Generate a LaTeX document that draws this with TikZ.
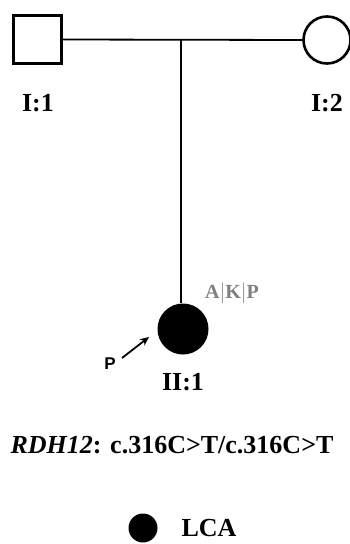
\documentclass[tikz,border=0pt]{standalone}
\usepackage{fontspec}
\usetikzlibrary{arrows.meta}
\setmainfont{Liberation Serif}
\newfontfamily\sansf{Liberation Sans}
\begin{document}
\begin{tikzpicture}[x=1pt,y=-1pt,
  lbl/.style={font=\fontsize{26}{30}\selectfont\bfseries},
  pline/.style={line width=1.8pt}]
\useasboundingbox (0,0) rectangle (350,544);
\node[draw,line width=2.6pt,minimum size=48pt,inner sep=0pt] (f) at (37.5,39.5) {};
\node[draw,circle,line width=2.6pt,minimum size=47pt,inner sep=0pt] (m) at (327,40) {};
\draw[pline] (f.east) -- (m.west) coordinate[pos=0.495] (mid);
\node[circle,fill=black,minimum size=51pt,inner sep=0pt] (c) at (183,329) {};
\draw[pline] (mid) -- (mid |- c.north);
\node[lbl] (l1) at (38,103) {I:1};
\node[lbl] (l2) at (327,103) {I:2};
\node[lbl] (l3) at (183,382) {II:1};
\node[font=\fontsize{20}{22}\selectfont\bfseries,text=gray] (akp) at (232,293) {A$|$K$|$P};
\node[font=\fontsize{17}{18}\selectfont\sansf\bfseries] (p) at (110,364) {P};
\coordinate (ptip) at (149,337);
\draw[line width=1.8pt,-{Stealth[length=9pt,width=8pt]}] (122,358) -- (ptip);
\node[lbl] (g) at (172,445) {\textit{RDH12}: c.316C\textgreater T/c.316C\textgreater T};
\node[circle,fill=black,minimum size=29pt,inner sep=0pt] (lc) at (143,528) {};
\node[lbl,anchor=west] (lca) at (178,528) {LCA};
\end{tikzpicture}
\end{document}
